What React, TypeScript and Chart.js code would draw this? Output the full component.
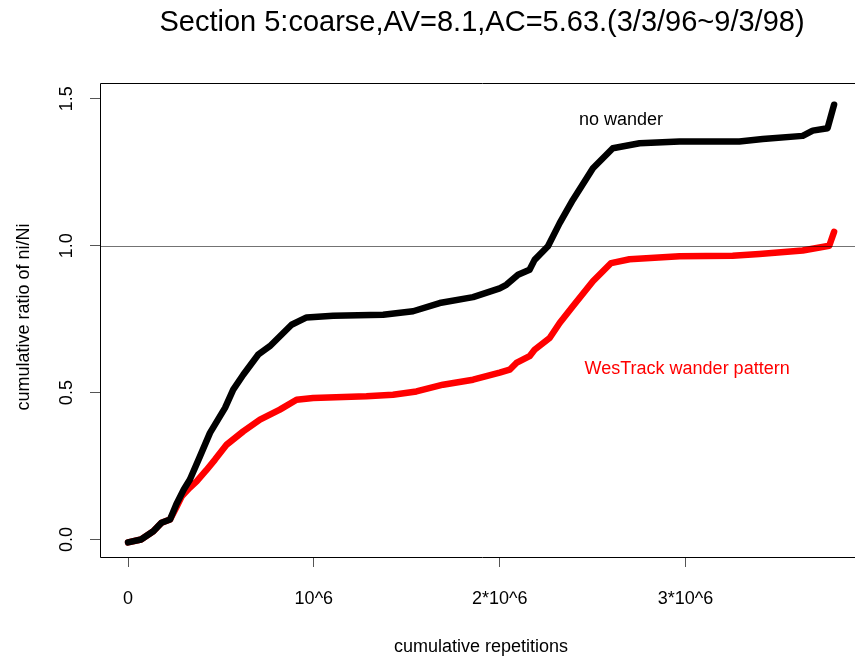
import React, { useEffect, useRef } from "react";
import { Chart, registerables } from "chart.js";

Chart.register(...registerables);

// ---------- data ----------
const TITLE = "Section 5:coarse,AV=8.1,AC=5.63.(3/3/96~9/3/98)";
const X_TITLE = "cumulative repetitions";
const Y_TITLE = "cumulative ratio of ni/Ni";

const X_TICKS = [0, 1000000, 2000000, 3000000];
const X_TICK_LABELS = ["0", "10^6", "2*10^6", "3*10^6"];
const Y_TICKS = [0, 0.5, 1, 1.5];
const Y_TICK_LABELS = ["0.0", "0.5", "1.0", "1.5"];
const REF_LINE = 1.0;

const SERIES_NO_WANDER = "no wander";
const SERIES_WANDER = "WesTrack wander pattern";

const noWanderX = [
  0, 70000, 136000, 180000, 226000, 260000, 300000, 333000, 387000, 441000,
  522000, 566000, 620000, 700000, 763000, 880000, 961000, 1104000, 1373000, 1534000,
  1677000, 1857000, 2000000, 2036000, 2099000, 2161000, 2188000, 2260000, 2323000, 2394000,
  2502000, 2609000, 2753000, 2968000, 3290000, 3416000, 3631000, 3685000, 3765000, 3800000,
];
const noWanderY = [
  -0.01, 0.0, 0.028, 0.057, 0.068, 0.12, 0.17, 0.204, 0.283, 0.363,
  0.448, 0.51, 0.561, 0.629, 0.658, 0.731, 0.756, 0.762, 0.765, 0.777,
  0.805, 0.825, 0.855, 0.867, 0.901, 0.918, 0.952, 0.998, 1.077, 1.156,
  1.264, 1.332, 1.349, 1.355, 1.355, 1.363, 1.374, 1.392, 1.4, 1.48,
];

const wanderX = [
  0, 70000, 136000, 180000, 226000, 260000, 289000, 330000, 369000, 420000,
  468000, 531000, 620000, 710000, 817000, 907000, 996000, 1283000, 1426000, 1552000,
  1695000, 1857000, 2000000, 2054000, 2090000, 2161000, 2188000, 2269000, 2323000, 2394000,
  2502000, 2600000, 2699000, 2968000, 3254000, 3398000, 3631000, 3774000, 3800000,
];
const wanderY = [
  -0.01, 0.0, 0.028, 0.057, 0.068, 0.11, 0.147, 0.175, 0.198, 0.235,
  0.272, 0.323, 0.368, 0.408, 0.442, 0.476, 0.482, 0.488, 0.493, 0.504,
  0.527, 0.544, 0.568, 0.578, 0.601, 0.624, 0.646, 0.686, 0.737, 0.794,
  0.879, 0.941, 0.954, 0.964, 0.966, 0.972, 0.984, 1.0, 1.047,
];

// text label anchors (data coordinates)
const NO_WANDER_LABEL_AT = [2653000, 1.411];
const WANDER_LABEL_AT = [3009000, 0.562];

// ---------- styling ----------
const FONT = '"Liberation Sans", Arial, Helvetica, sans-serif';
const X_MIN = -151000;
const X_MAX = 3961000;
const Y_MIN = -0.0596;
const Y_MAX = 1.554;

const rDecor = {
  id: "rDecor",
  afterDatasetsDraw(chart: any) {
    const { ctx, chartArea, scales } = chart;
    const y = Math.round(scales.y.getPixelForValue(REF_LINE)) + 0.5;
    ctx.save();
    ctx.strokeStyle = "rgba(0,0,0,0.55)";
    ctx.lineWidth = 1;
    ctx.beginPath();
    ctx.moveTo(chartArea.left, y);
    ctx.lineTo(chartArea.right, y);
    ctx.stroke();
    ctx.restore();
  },
  afterDraw(chart: any) {
    const { ctx, chartArea, scales } = chart;
    const xs = scales.x;
    const ys = scales.y;
    ctx.save();
    // box (its right side lies past the visible 855px window, as in the original crop)
    const l = Math.round(chartArea.left) + 0.5;
    const t = Math.round(chartArea.top) + 0.5;
    const b = Math.round(chartArea.bottom) + 0.5;
    const r = Math.round(chartArea.right) + 0.5;
    ctx.strokeStyle = "#000";
    ctx.lineWidth = 1;
    ctx.beginPath();
    ctx.moveTo(r, t);
    ctx.lineTo(l, t);
    ctx.lineTo(l, b);
    ctx.lineTo(r, b);
    ctx.lineTo(r, t);
    ctx.stroke();

    ctx.fillStyle = "#000";
    // x tick labels
    ctx.font = `18px ${FONT}`;
    ctx.textAlign = "center";
    ctx.textBaseline = "alphabetic";
    xs.ticks.forEach((tk: any, i: number) => {
      ctx.fillText(X_TICK_LABELS[i], xs.getPixelForValue(tk.value), 604);
    });
    // y tick labels (rotated)
    ys.ticks.forEach((tk: any, i: number) => {
      ctx.save();
      ctx.translate(67, ys.getPixelForValue(tk.value));
      ctx.rotate(-Math.PI / 2);
      ctx.textAlign = "center";
      ctx.textBaseline = "middle";
      ctx.fillText(Y_TICK_LABELS[i], 0, 0);
      ctx.restore();
    });
    // axis titles
    ctx.textAlign = "center";
    ctx.textBaseline = "alphabetic";
    ctx.fillText(X_TITLE, 481, 652);
    ctx.save();
    ctx.translate(24, 317);
    ctx.rotate(-Math.PI / 2);
    ctx.textBaseline = "middle";
    ctx.fillText(Y_TITLE, 0, 0);
    ctx.restore();

    // in-plot labels
    ctx.textAlign = "center";
    ctx.textBaseline = "alphabetic";
    ctx.fillStyle = "#000";
    ctx.fillText(
      SERIES_NO_WANDER,
      xs.getPixelForValue(NO_WANDER_LABEL_AT[0]),
      ys.getPixelForValue(NO_WANDER_LABEL_AT[1])
    );
    ctx.fillStyle = "#ff0000";
    ctx.fillText(
      SERIES_WANDER,
      xs.getPixelForValue(WANDER_LABEL_AT[0]),
      ys.getPixelForValue(WANDER_LABEL_AT[1])
    );

    // main title
    ctx.fillStyle = "#000";
    ctx.font = `29px ${FONT}`;
    ctx.fillText(TITLE, (chartArea.left + chartArea.right) / 2, 31);
    ctx.restore();
  },
};

export default function App() {
  const canvasRef = useRef<HTMLCanvasElement | null>(null);

  useEffect(() => {
    document.body.style.margin = "0";
    const canvas = canvasRef.current;
    if (!canvas) return;
    const toPts = (xs: number[], ys: number[]) => xs.map((x, i) => ({ x, y: ys[i] }));
    const chart = new Chart(canvas, {
      type: "line",
      data: {
        datasets: [
          {
            label: SERIES_NO_WANDER,
            data: toPts(noWanderX, noWanderY),
            borderColor: "#000000",
            borderWidth: 6.5,
            pointRadius: 0,
            tension: 0,
            borderCapStyle: "round",
            borderJoinStyle: "round",
          },
          {
            label: SERIES_WANDER,
            data: toPts(wanderX, wanderY),
            borderColor: "#ff0000",
            borderWidth: 6.5,
            pointRadius: 0,
            tension: 0,
            borderCapStyle: "round",
            borderJoinStyle: "round",
          },
        ],
      },
      options: {
        responsive: false,
        animation: false,
        devicePixelRatio: 1,
        layout: { padding: { top: 83, right: 6, left: 0, bottom: 0 } },
        plugins: {
          legend: { display: false },
          tooltip: { enabled: false },
          title: { display: false },
        },
        scales: {
          x: {
            type: "linear",
            min: X_MIN,
            max: X_MAX,
            afterBuildTicks: (s: any) => {
              s.ticks = X_TICKS.map((v) => ({ value: v }));
            },
            afterFit: (s: any) => {
              s.height = 102;
            },
            ticks: { display: false },
            grid: {
              drawOnChartArea: false,
              drawTicks: true,
              tickLength: 10,
              color: "#555555",
              lineWidth: 1,
            },
            border: { display: false },
          },
          y: {
            type: "linear",
            min: Y_MIN,
            max: Y_MAX,
            afterBuildTicks: (s: any) => {
              s.ticks = Y_TICKS.map((v) => ({ value: v }));
            },
            afterFit: (s: any) => {
              s.width = 100;
            },
            ticks: { display: false },
            grid: {
              drawOnChartArea: false,
              drawTicks: true,
              tickLength: 10,
              color: "#555555",
              lineWidth: 1,
            },
            border: { display: false },
          },
        },
      },
      plugins: [rDecor],
    } as any);
    return () => chart.destroy();
  }, []);

  return (
    <div
      style={{
        position: "fixed",
        left: 0,
        top: 0,
        width: 855,
        height: 659,
        overflow: "hidden",
        background: "#fff",
      }}
    >
      <canvas ref={canvasRef} width={870} height={659} style={{ display: "block" }} />
    </div>
  );
}
